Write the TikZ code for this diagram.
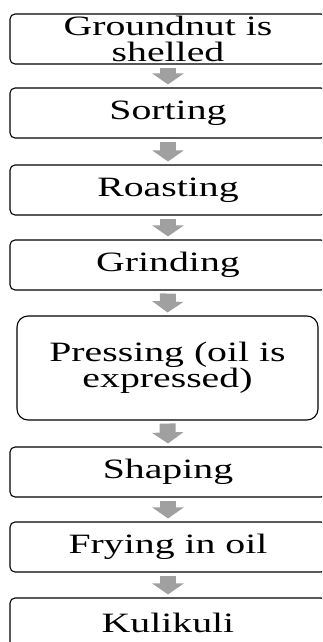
\documentclass[tikz,border=0pt]{standalone}
\usepackage{fontspec}
\usetikzlibrary{arrows.meta,calc}
\newfontfamily\boxfont[FakeStretch=1.42]{Liberation Serif}
\definecolor{arrowgray}{RGB}{160,160,160}
\tikzset{
  stepbox/.style={draw=black, line width=1.1pt, rounded corners=5pt,
    minimum width=316pt, minimum height=50pt, inner sep=0pt, align=center,
    font=\boxfont\fontsize{28}{26.5}\selectfont},
  bigbox/.style={stepbox, rounded corners=11pt, minimum width=301pt,
    minimum height=104pt},
  flow/.style={draw=arrowgray, line width=16pt,
    -{Triangle[width=31pt,length=11pt,fill=arrowgray]}}
}
\begin{document}
\begin{tikzpicture}[x=1pt,y=-1pt]
  \useasboundingbox (0,0) rectangle (322,642);
  \clip (0,0) rectangle (322,642);
  % process steps
  \node[stepbox] (shell) at (168,39)  {Groundnut is\\shelled};
  \node[stepbox] (sort)  at (168,113) {Sorting};
  \node[stepbox] (roast) at (168,190) {Roasting};
  \node[stepbox] (grind) at (168,265) {Grinding};
  \node[bigbox]  (press) at (167.5,368) {Pressing (oil is\\expressed)};
  \node[stepbox] (shape) at (168,472) {Shaping};
  \node[stepbox] (fry)   at (168,547) {Frying in oil};
  \node[stepbox] (kuli)  at (168,623) {Kulikuli};
  % block arrows between consecutive steps
  \foreach \a/\b in {shell/sort, sort/roast, roast/grind, grind/press,
                     press/shape, shape/fry, fry/kuli}
    \draw[flow] ($(\a.south)+(0,3)$) -- ($(\b.north)+(0,-3)$);
\end{tikzpicture}
\end{document}
